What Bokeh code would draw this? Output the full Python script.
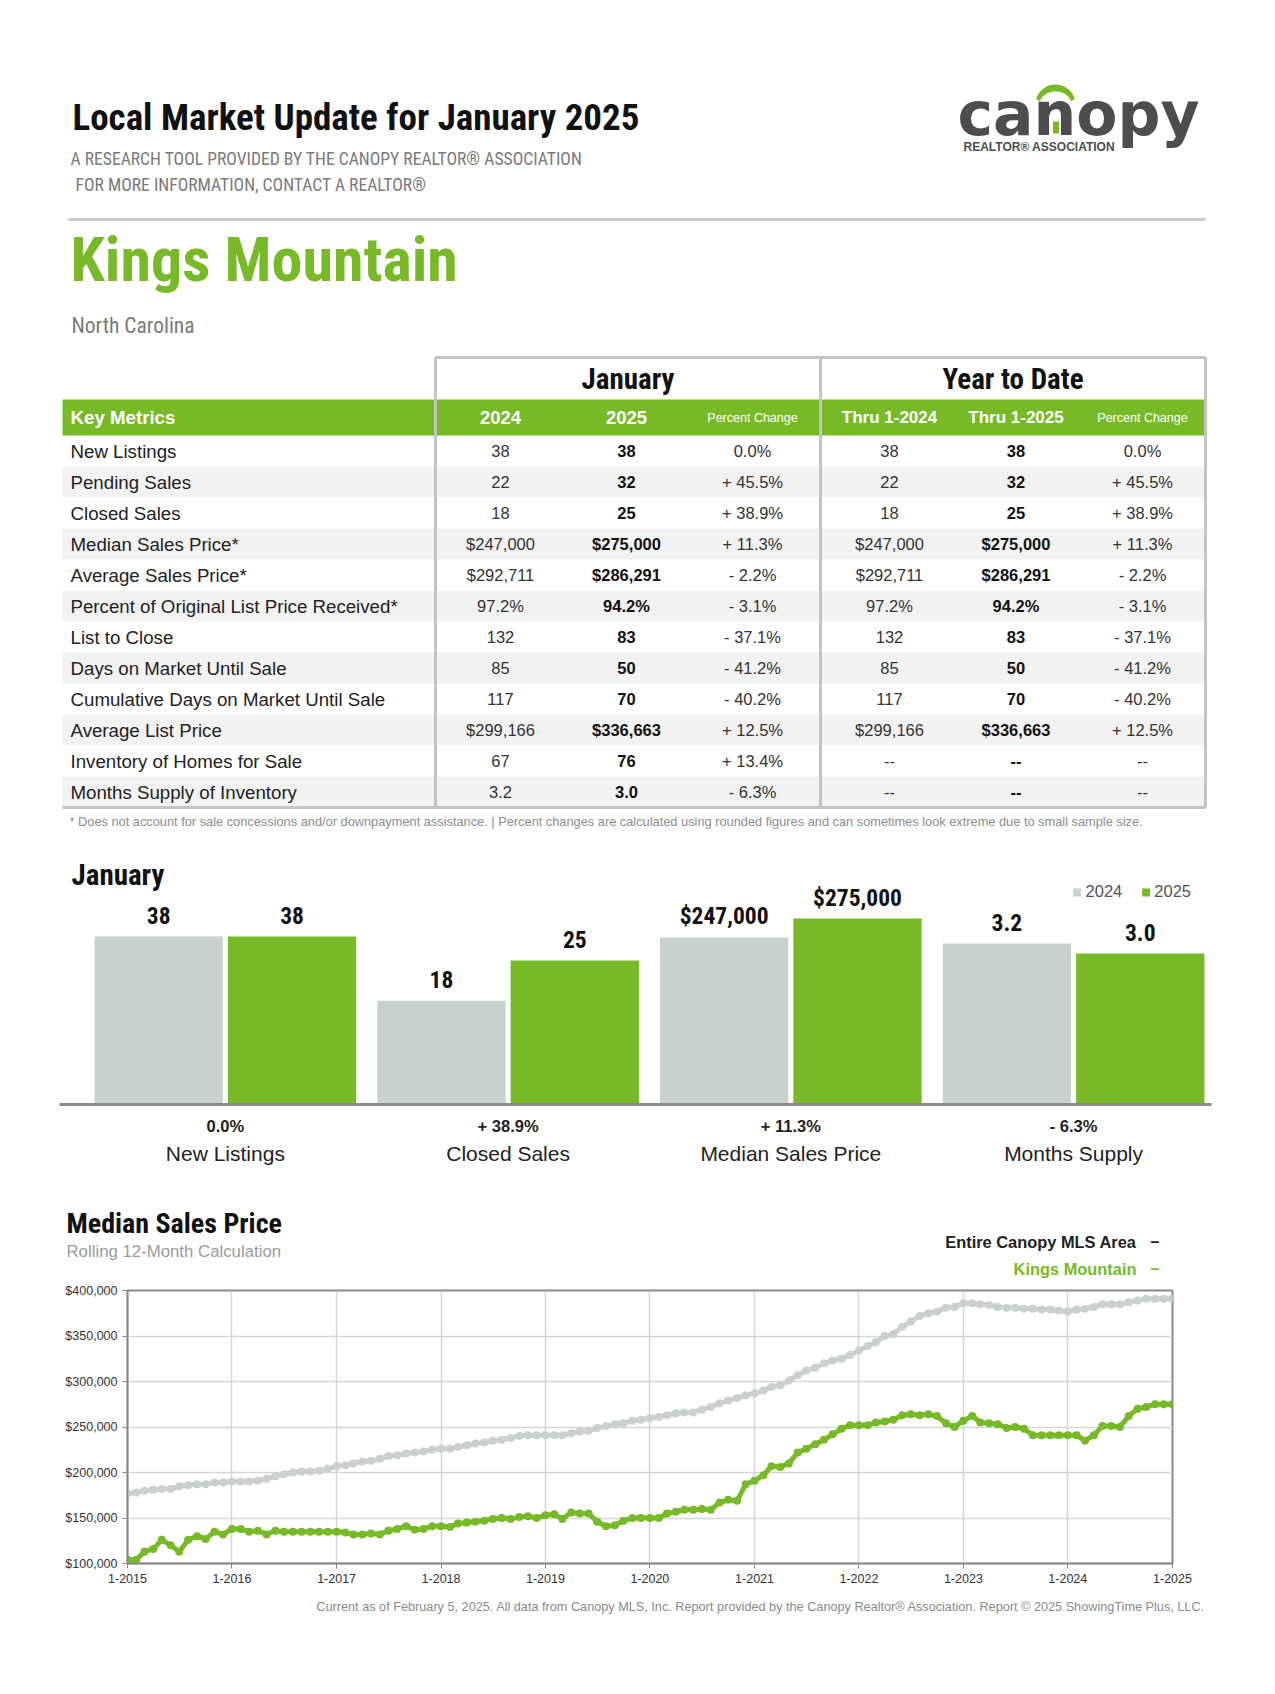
import numpy as np
import pandas as pd
from bokeh.plotting import figure
from bokeh.layouts import column
from bokeh.models import (Range1d, ColumnDataSource, LabelSet, Label, Legend, LegendItem,
                          LinearAxis, FixedTicker, NumeralTickFormatter, DatetimeTickFormatter)
from bokeh.core.properties import value
from bokeh.embed import file_html
from bokeh.resources import INLINE

# ---------------- data ----------------
metrics = ["New Listings", "Pending Sales", "Closed Sales", "Median Sales Price*",
           "Average Sales Price*", "Percent of Original List Price Received*", "List to Close",
           "Days on Market Until Sale", "Cumulative Days on Market Until Sale",
           "Average List Price", "Inventory of Homes for Sale", "Months Supply of Inventory"]
jan_2024 = ["38", "22", "18", "$247,000", "$292,711", "97.2%", "132", "85", "117", "$299,166", "67", "3.2"]
jan_2025 = ["38", "32", "25", "$275,000", "$286,291", "94.2%", "83", "50", "70", "$336,663", "76", "3.0"]
jan_change = ["0.0%", "+ 45.5%", "+ 38.9%", "+ 11.3%", "- 2.2%", "- 3.1%", "- 37.1%", "- 41.2%",
              "- 40.2%", "+ 12.5%", "+ 13.4%", "- 6.3%"]
ytd_2024 = ["38", "22", "18", "$247,000", "$292,711", "97.2%", "132", "85", "117", "$299,166", "--", "--"]
ytd_2025 = ["38", "32", "25", "$275,000", "$286,291", "94.2%", "83", "50", "70", "$336,663", "--", "--"]
ytd_change = ["0.0%", "+ 45.5%", "+ 38.9%", "+ 11.3%", "- 2.2%", "- 3.1%", "- 37.1%", "- 41.2%",
              "- 40.2%", "+ 12.5%", "--", "--"]

bar_groups = ["New Listings", "Closed Sales", "Median Sales Price", "Months Supply"]
bar_2024 = [38, 18, 247000, 3.2]
bar_2025 = [38, 25, 275000, 3.0]
bar_change = ["0.0%", "+ 38.9%", "+ 11.3%", "- 6.3%"]
bar_axis_max = [54.7, 42.0, 357800, 4.81]   # per-group value scale tops

# rolling 12-month median sales price, thousands of $, monthly 1-2015 .. 1-2025
canopy_k = [177, 178, 180, 181, 182, 182, 185, 186, 187, 187, 189, 189,
            190, 190, 190, 191, 193, 196, 198, 200, 201, 201, 202, 204,
            207, 208, 210, 212, 213, 215, 218, 219, 221, 222, 223, 225,
            226, 226, 228, 230, 232, 233, 235, 236, 238, 240, 241, 241,
            241, 241, 241, 243, 245, 246, 249, 251, 253, 254, 257, 258,
            260, 261, 263, 265, 266, 266, 269, 272, 276, 279, 282, 285,
            287, 290, 294, 296, 301, 307, 312, 315, 320, 323, 325, 329,
            334, 339, 343, 350, 352, 360, 366, 372, 375, 377, 381, 382,
            386, 386, 385, 384, 382, 381, 381, 380, 380, 379, 379, 378,
            377, 379, 380, 382, 385, 385, 385, 387, 389, 391, 391, 391,
            391]
kings_k = [104, 104, 113, 116, 126, 120, 113, 126, 130, 127, 135, 132,
           138, 138, 135, 136, 132, 136, 135, 135, 135, 135, 135, 135,
           135, 134, 132, 132, 133, 132, 136, 138, 141, 137, 138, 141,
           141, 140, 144, 145, 146, 147, 149, 150, 149, 151, 152, 150,
           153, 154, 149, 156, 155, 155, 146, 141, 142, 147, 150, 150,
           150, 150, 155, 157, 159, 159, 160, 159, 167, 170, 169, 187,
           191, 197, 207, 206, 210, 222, 226, 231, 236, 242, 248, 252,
           252, 252, 255, 256, 258, 263, 264, 263, 264, 262, 254, 250,
           257, 262, 255, 254, 253, 249, 250, 248, 241, 241, 241, 241,
           241, 241, 235, 241, 251, 251, 250, 262, 270, 272, 275, 275,
           275]
year_ticks = list(range(2015, 2026))

# ---------------- styles ----------------
GREEN = "#78b928"
GRAY = "#c8d1ce"
FN = "Roboto Condensed"
FS = "Liberation Sans"
W = 1275


def page_fig(y0, y1):
    p = figure(width=W, height=y1 - y0, x_range=Range1d(0, W), y_range=Range1d(y1, y0),
               x_axis_type=None, y_axis_type=None, min_border=0, output_backend="svg",
               toolbar_location=None, frame_align=False)
    p.outline_line_color = None
    return p


def txt(p, x, y, s, size, color="#111", font=FN, style="normal", align="left",
        baseline="middle", **kw):
    return p.text(x=[x], y=[y], text=[s], text_font=value(font), text_font_size=size,
                  text_font_style=style, text_color=color, text_align=align,
                  text_baseline=baseline, **kw)


# ================= header + table (page-pixel coordinates) =================
pA = page_fig(0, 840)
txt(pA, 72, 117, "Local Market Update for January 2025", "37px", "#111", FN, "bold")
txt(pA, 70, 158, "A RESEARCH TOOL PROVIDED BY THE CANOPY REALTOR® ASSOCIATION", "17.6px", "#7a7a7a", FN)
txt(pA, 75, 184, "FOR MORE INFORMATION, CONTACT A REALTOR®", "17.6px", "#7a7a7a", FN)
pA.segment(x0=[68], y0=[219], x1=[1205], y1=[219], line_color="#c8c8c8", line_width=3)
txt(pA, 70, 259, "Kings Mountain", "62px", GREEN, FN, "bold")
txt(pA, 71, 325, "North Carolina", "21.5px", "#7a7a7a", FN)

# logo
txt(pA, 957, 113, "canopy", "60px", "#4d4d4f", "DejaVu Sans", "bold")
t = np.linspace(np.radians(15), np.radians(165), 40)
arc_x = np.concatenate([1055 + 20 * np.cos(t), (1055 + 16 * np.cos(t))[::-1]])
arc_y = np.concatenate([104 - 20 * np.sin(t), (104 - 13 * np.sin(t))[::-1]])
pA.patch(arc_x, arc_y, fill_color=GREEN, line_color=None)
pA.quad(left=[1052.5], right=[1058.5], top=[121], bottom=[133], fill_color=GREEN, line_color=None)
txt(pA, 963, 146, "REALTOR® ASSOCIATION", "12px", "#4d4d4f", FS, "bold")

# table geometry
T_L, C0, CM, T_R = 62, 435, 820, 1205
BOX_TOP, HDR_TOP, HDR_BOT, ROW_H = 357, 399, 435, 31
n = len(metrics)
tops = [HDR_BOT + i * ROW_H for i in range(n)]
odd = [i for i in range(n) if i % 2 == 1]
pA.quad(left=T_L, right=T_R, top=[tops[i] for i in odd], bottom=[tops[i] + ROW_H for i in odd],
        fill_color="#f2f2f2", line_color=None)
pA.quad(left=[T_L], right=[T_R], top=[HDR_TOP], bottom=[HDR_BOT], fill_color=GREEN, line_color=None)
T_BOT = HDR_BOT + n * ROW_H
pA.segment(x0=[C0, C0, CM, T_R, T_L], y0=[BOX_TOP, BOX_TOP, BOX_TOP, BOX_TOP, T_BOT],
           x1=[T_R, C0, CM, T_R, T_R], y1=[BOX_TOP, T_BOT, T_BOT, T_BOT, T_BOT],
           line_color="#c4c4c4", line_width=3)

txt(pA, (C0 + CM) / 2, 378, "January", "29px", "#111", FN, "bold", align="center")
txt(pA, (CM + T_R) / 2, 378, "Year to Date", "29px", "#111", FN, "bold", align="center")

hc = (HDR_TOP + HDR_BOT) / 2
cols = [500, 626, 752, 889, 1015.5, 1142]
txt(pA, 70, hc, "Key Metrics", "18.7px", "white", FS, "bold")
for x, s, sz, st in [(cols[0], "2024", "18.5px", "bold"), (cols[1], "2025", "18.5px", "bold"),
                     (cols[2], "Percent Change", "12.5px", "normal"),
                     (cols[3], "Thru 1-2024", "17px", "bold"), (cols[4], "Thru 1-2025", "17px", "bold"),
                     (cols[5], "Percent Change", "12.5px", "normal")]:
    txt(pA, x, hc, s, sz, "white", FS, st, align="center")

rows = ColumnDataSource(dict(
    yc=[tp + ROW_H / 2 for tp in tops],
    metric=metrics, j24=jan_2024, j25=jan_2025, jch=jan_change,
    y24=ytd_2024, y25=ytd_2025, ych=ytd_change))
pA.text(x=70, y="yc", text="metric", source=rows, text_font=value(FS), text_font_size="18.7px",
        text_color="#222", text_align="left", text_baseline="middle")
for x, col, st, colr in [(cols[0], "j24", "normal", "#333"), (cols[1], "j25", "bold", "#111"),
                         (cols[2], "jch", "normal", "#333"), (cols[3], "y24", "normal", "#333"),
                         (cols[4], "y25", "bold", "#111"), (cols[5], "ych", "normal", "#333")]:
    pA.text(x=x, y="yc", text=col, source=rows, text_font=value(FS), text_font_size="16.5px",
            text_font_style=st, text_color=colr, text_align="center", text_baseline="middle")

txt(pA, 69, 821, "* Does not account for sale concessions and/or downpayment assistance.  |  "
    "Percent changes are calculated using rounded figures and can sometimes look extreme due to small sample size.",
    "12.8px", "#8c8c8c", FS)

# ================= bar chart =================
B_TOP, B_BOT = 840, 1190
F_TOP, BASE = 862, 1104
X_L, X_R = 59, 1211
bar_w, bar_step = 0.4539, 0.4716
pB = figure(width=W, height=B_BOT - B_TOP, x_range=Range1d(-0.5867, 3.4878),
            y_range=Range1d(BASE, F_TOP), x_axis_type=None, y_axis_type=None,
            min_border_left=X_L, min_border_right=W - X_R, min_border_top=F_TOP - B_TOP,
            min_border_bottom=B_BOT - BASE, output_backend="svg", toolbar_location=None,
            frame_align=False)
pB.outline_line_color = None
pB.extra_x_ranges = {"page": Range1d(X_L, X_R)}
fmts = [lambda v: f"{v:.0f}", lambda v: f"{v:.0f}", lambda v: f"${v:,.0f}", lambda v: f"{v:.1f}"]
first_r = None
for k in range(len(bar_groups)):
    pB.extra_y_ranges[f"g{k}"] = Range1d(0, bar_axis_max[k])
    vals = [bar_2024[k], bar_2025[k]]
    src = ColumnDataSource(dict(x=[k - bar_step / 2, k + bar_step / 2], top=vals,
                                color=[GRAY, GREEN], label=[fmts[k](v) for v in vals]))
    r = pB.vbar(x="x", top="top", bottom=0, width=bar_w, fill_color="color", line_color=None,
                source=src, y_range_name=f"g{k}")
    if first_r is None:
        first_r = r
    pB.add_layout(LabelSet(x="x", y="top", text="label", source=src, y_range_name=f"g{k}",
                           y_offset=21, text_align="center", text_baseline="middle",
                           text_font=value(FN), text_font_style="bold", text_font_size="23.5px",
                           text_color="#111"))

ax1 = LinearAxis(ticker=FixedTicker(ticks=list(range(len(bar_groups)))),
                 major_label_overrides={i: s for i, s in enumerate(bar_change)})
ax1.axis_line_color = "#8a8a8a"
ax1.axis_line_width = 3
ax1.major_tick_line_color = None
ax1.minor_tick_line_color = None
ax1.major_tick_out = 0
ax1.major_tick_in = 0
ax1.major_label_standoff = 12
ax1.major_label_text_font = FS
ax1.major_label_text_font_style = "bold"
ax1.major_label_text_font_size = "16.5px"
ax1.major_label_text_color = "#222"
ax2 = LinearAxis(ticker=FixedTicker(ticks=list(range(len(bar_groups)))),
                 major_label_overrides={i: s for i, s in enumerate(bar_groups)})
ax2.axis_line_color = None
ax2.major_tick_line_color = None
ax2.minor_tick_line_color = None
ax2.major_tick_out = 0
ax2.major_tick_in = 0
ax2.major_label_standoff = 4
ax2.major_label_text_font = FS
ax2.major_label_text_font_size = "21px"
ax2.major_label_text_color = "#222"
pB.add_layout(ax1, "below")
pB.add_layout(ax2, "below")

leg = Legend(items=[LegendItem(label="2024", renderers=[first_r], index=0),
                    LegendItem(label="2025", renderers=[first_r], index=1)],
             orientation="horizontal", location="top_right", border_line_color=None,
             background_fill_alpha=0, label_text_font=FS, label_text_font_size="16.5px",
             label_text_color="#555", glyph_width=10, glyph_height=10, label_standoff=4,
             spacing=18, padding=0, margin=20)
pB.add_layout(leg)
pB.add_layout(Label(x=71, y=874, x_range_name="page", text="January", text_font=FN,
                    text_font_style="bold", text_font_size="29px", text_color="#111",
                    text_baseline="middle"))

# ================= line chart heading =================
pCh = page_fig(1190, 1282)
txt(pCh, 66, 1223, "Median Sales Price", "28px", "#111", FN, "bold")
txt(pCh, 66, 1251, "Rolling 12-Month Calculation", "16.8px", "#9a9a9a", FS)
txt(pCh, 1136, 1241, "Entire Canopy MLS Area", "16.4px", "#222", FS, "bold", "right")
txt(pCh, 1150, 1241, "–", "16px", "#222", FS, "bold", "left")
txt(pCh, 1136, 1268, "Kings Mountain", "16.4px", GREEN, FS, "bold", "right")
txt(pCh, 1150, 1268, "–", "16px", GREEN, FS, "bold", "left")

# ================= line chart =================
C_TOP, C_BOT = 1282, 1595
FR_TOP, FR_BOT, FR_L, FR_R = 1290, 1563, 127, 1172
months = pd.date_range("2015-01-01", periods=len(canopy_k), freq="MS")
lsrc = ColumnDataSource(dict(date=months, canopy=[v * 1000 for v in canopy_k],
                             kings=[v * 1000 for v in kings_k]))
pC = figure(width=W, height=C_BOT - C_TOP, x_axis_type="datetime",
            x_range=Range1d(pd.Timestamp("2015-01-01"), pd.Timestamp("2025-01-01")),
            y_range=Range1d(100000, 400000),
            min_border_left=FR_L, min_border_right=W - FR_R,
            min_border_top=FR_TOP - C_TOP, min_border_bottom=C_BOT - FR_BOT,
            output_backend="svg", toolbar_location=None, frame_align=False)
pC.outline_line_color = "#888888"
pC.outline_line_width = 2

xt = [pd.Timestamp(f"{y}-01-01").value / 1e6 for y in year_ticks]
yt = list(range(100000, 400001, 50000))
pC.xaxis.ticker = FixedTicker(ticks=xt)
pC.xaxis.formatter = DatetimeTickFormatter(years="1-%Y", months="1-%Y", days="1-%Y")
pC.yaxis.ticker = FixedTicker(ticks=yt)
pC.yaxis.formatter = NumeralTickFormatter(format="$0,0")
pC.xgrid.ticker = FixedTicker(ticks=xt)
pC.ygrid.ticker = FixedTicker(ticks=yt)
pC.grid.grid_line_color = "#d6d6d6"
pC.grid.grid_line_width = 1.5
for ax in (pC.xaxis, pC.yaxis):
    ax.axis_line_color = "#888888"
    ax.axis_line_width = 1.5
    ax.major_tick_line_color = "#888888"
    ax.major_tick_out = 5
    ax.major_tick_in = 0
    ax.minor_tick_line_color = None
    ax.major_label_standoff = 5
    ax.major_label_text_font = FS
    ax.major_label_text_font_size = "12.5px"
    ax.major_label_text_color = "#333"

pC.line(x="date", y="canopy", source=lsrc, line_color=GRAY, line_width=5)
pC.scatter(x="date", y="canopy", source=lsrc, size=8, fill_color=GRAY, line_color=None)
pC.line(x="date", y="kings", source=lsrc, line_color=GREEN, line_width=5)
pC.scatter(x="date", y="kings", source=lsrc, size=8, fill_color=GREEN, line_color=None)

# ================= footer =================
pF = page_fig(1595, 1680)
txt(pF, 1205, 1606, "Current as of February 5, 2025. All data from Canopy MLS, Inc. Report provided by the "
    "Canopy Realtor® Association. Report © 2025 ShowingTime Plus, LLC.", "12.7px", "#8a8a8a",
    FS, "normal", "right")

page = column(pA, pB, pCh, pC, pF, spacing=0)
open("out.html", "w").write(file_html(page, INLINE))
